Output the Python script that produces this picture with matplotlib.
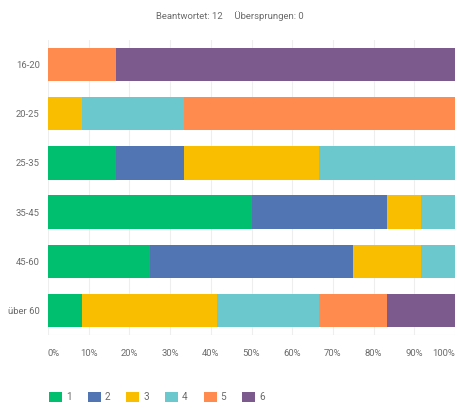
import numpy as np
import matplotlib
matplotlib.use('Agg')
import matplotlib.pyplot as plt
from matplotlib.patches import Patch

plt.rcParams['font.family'] = ['Roboto', 'DejaVu Sans']

categories = ['16-20', '20-25', '25-35', '35-45', '45-60', 'über 60']
series_names = ['1', '2', '3', '4', '5', '6']
# Anteile je Altersgruppe in %
s1 = [0, 0, 16.7, 50.0, 25.0, 8.3]
s2 = [0, 0, 16.7, 33.3, 50.0, 0]
s3 = [0, 8.3, 33.3, 8.3, 16.7, 33.3]
s4 = [0, 25.0, 33.3, 8.4, 8.3, 25.0]
s5 = [16.7, 66.7, 0, 0, 0, 16.7]
s6 = [83.3, 0, 0, 0, 0, 16.7]
colors = ['#00BF6F', '#5075B2', '#F9BE00', '#6BC8CD', '#FF8B4F', '#7C5A8E']
xticks = [0, 10, 20, 30, 40, 50, 60, 70, 80, 90, 100]

series = [s1, s2, s3, s4, s5, s6]
txt = '#6b6b6b'

fig = plt.figure(figsize=(4.59, 4.08), dpi=100)
ax = fig.add_axes([48 / 459, 1 - 335 / 408, 407 / 459, 295 / 408])
y = np.arange(len(categories))
left = np.zeros(len(categories))
for vals, c in zip(series, colors):
    vals = np.array(vals)
    ax.barh(y, vals, left=left, height=0.68, color=c, zorder=3)
    left += vals

ax.set_xlim(0, 100)
ax.set_ylim(len(categories) - 0.5, -0.5)
ax.set_yticks(y)
ax.set_yticklabels(categories, fontsize=6.8, color=txt)
ax.set_xticks(xticks)
ax.set_xticklabels(['%d%%' % t for t in xticks], fontsize=6.8, color=txt)
labs = ax.get_xticklabels()
labs[0].set_horizontalalignment('left')
labs[-1].set_horizontalalignment('right')
ax.tick_params(length=0, pad=6)
ax.tick_params(axis='x', pad=10)
ax.grid(axis='x', color='#eeeeee', lw=0.8, zorder=0)
for s in ax.spines.values():
    s.set_visible(False)
ax.axhline(len(categories) - 0.5, color='#e4e4e4', lw=0.8)

fig.text(0.5, 1 - 16 / 408, 'Beantwortet: 12     Übersprungen: 0',
         ha='center', va='center', fontsize=6.8, color=txt)

handles = [Patch(facecolor=c, label=n) for c, n in zip(colors, series_names)]
fig.legend(handles=handles, loc='center left', bbox_to_anchor=(40 / 459, 1 - 397 / 408),
           ncol=6, frameon=False, fontsize=7.2, labelcolor=txt, handlelength=1.3,
           handleheight=1.3, handletextpad=0.4, columnspacing=1.6)

fig.savefig('out.png', dpi=100, facecolor='white')
